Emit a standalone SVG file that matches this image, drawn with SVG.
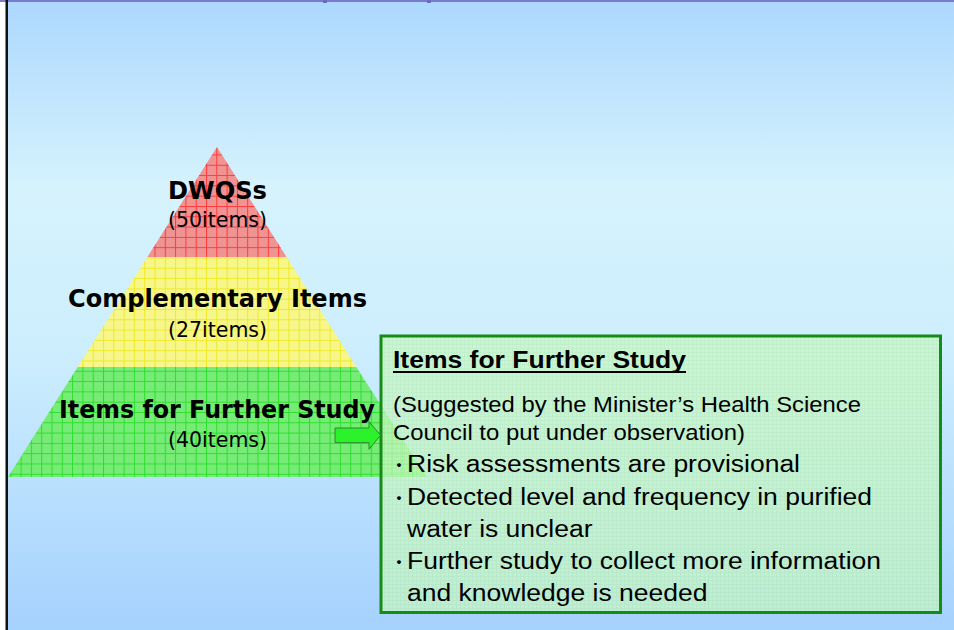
<svg xmlns="http://www.w3.org/2000/svg" width="954" height="630" viewBox="0 0 954 630">
  <defs>
    <linearGradient id="bg" x1="0" y1="0" x2="0" y2="1">
      <stop offset="0" stop-color="#acd7fd"/>
      <stop offset="0.3" stop-color="#d6f3fd"/>
      <stop offset="0.55" stop-color="#cdeefd"/>
      <stop offset="1" stop-color="#a5d1fd"/>
    </linearGradient>
    <pattern id="grid-red" patternUnits="userSpaceOnUse" width="10.3" height="10.3">
      <rect width="10.3" height="10.3" fill="#ef9393"/>
      <path d="M0 0.5H10.3M0.5 0V10.3" stroke="#ff3a3a" stroke-width="1"/>
    </pattern>
    <pattern id="grid-yellow" patternUnits="userSpaceOnUse" width="10.3" height="10.3">
      <rect width="10.3" height="10.3" fill="#f6f68a"/>
      <path d="M0 0.5H10.3M0.5 0V10.3" stroke="#eeea2a" stroke-width="1"/>
    </pattern>
    <pattern id="grid-green" patternUnits="userSpaceOnUse" width="10.3" height="10.3">
      <rect width="10.3" height="10.3" fill="#76ec76"/>
      <path d="M0 0.5H10.3M0.5 0V10.3" stroke="#2ddd2d" stroke-width="1"/>
    </pattern>
    <pattern id="grid-box" patternUnits="userSpaceOnUse" width="4" height="4">
      <rect width="4" height="4" fill="#c9f8c2"/>
      <path d="M0 0.5H4M0.5 0V4" stroke="#bdf0b8" stroke-width="1"/>
    </pattern>
    <style>
      .tier-title { font-family: "DejaVu Sans", "Liberation Sans", sans-serif; font-weight: bold; font-size: 24px; fill: #000; text-anchor: middle; }
      .tier-count { font-family: "DejaVu Sans", "Liberation Sans", sans-serif; font-size: 21px; fill: #000; text-anchor: middle; }
      .box-head { font-family: "Liberation Sans", Arial, sans-serif; font-weight: bold; font-size: 24.5px; fill: #000; }
      .box-note { font-family: "Liberation Sans", Arial, sans-serif; font-size: 22.5px; fill: #000; }
      .box-item { font-family: "Liberation Sans", Arial, sans-serif; font-size: 23.5px; fill: #000; }
      .bullet { font-family: "Noto Sans CJK JP", "Liberation Sans", sans-serif; font-size: 20px; font-weight: bold; fill: #000; text-anchor: middle; }
    </style>
  </defs>

  <!-- slide background -->
  <rect x="0" y="0" width="954" height="630" fill="#ffffff"/>
  <rect x="8" y="0" width="946" height="630" fill="url(#bg)"/>
  <rect x="0" y="0" width="954" height="2" fill="#7b7bc9"/>
  <rect x="323" y="0" width="4" height="3" fill="#6c6cbc"/>
  <rect x="427" y="0" width="4" height="3" fill="#6c6cbc"/>
  <rect x="5.5" y="0" width="2.5" height="630" fill="#111111"/>

  <!-- pyramid tiers -->
  <g id="tier-dwqs">
    <polygon points="217,147 147.4,257 286.6,257" fill="url(#grid-red)"/>
    <text class="tier-title" x="217.5" y="199" textLength="99" lengthAdjust="spacingAndGlyphs">DWQSs</text>
    <text class="tier-count" x="217.5" y="227" textLength="99" lengthAdjust="spacingAndGlyphs">(50items)</text>
  </g>
  <g id="tier-complementary">
    <polygon points="147.4,257 286.6,257 356.3,367 77.7,367" fill="url(#grid-yellow)"/>
    <text class="tier-title" x="217.5" y="307" textLength="299" lengthAdjust="spacingAndGlyphs">Complementary Items</text>
    <text class="tier-count" x="217.5" y="337" textLength="99" lengthAdjust="spacingAndGlyphs">(27items)</text>
  </g>
  <g id="tier-further">
    <polygon points="77.7,367 356.3,367 427,477 8,477" fill="url(#grid-green)"/>
    <text class="tier-title" x="217" y="418" textLength="316" lengthAdjust="spacingAndGlyphs">Items for Further Study</text>
    <text class="tier-count" x="217.5" y="447" textLength="99" lengthAdjust="spacingAndGlyphs">(40items)</text>
  </g>

  <!-- detail box -->
  <g id="further-study-box">
    <rect x="381" y="336" width="559.5" height="276.5" fill="url(#grid-box)" fill-opacity="0.72" stroke="#168c16" stroke-width="3"/>
    <text class="box-head" x="393" y="368" textLength="293" lengthAdjust="spacingAndGlyphs">Items for Further Study</text>
    <rect x="393" y="371" width="293" height="2" fill="#000"/>
    <text class="box-note" x="393" y="412" textLength="468" lengthAdjust="spacingAndGlyphs">(Suggested by the Minister’s Health Science</text>
    <text class="box-note" x="393" y="440" textLength="352" lengthAdjust="spacingAndGlyphs">Council to put under observation)</text>
    <text class="bullet" x="399" y="473">･</text>
    <text class="box-item" x="407" y="472" textLength="393" lengthAdjust="spacingAndGlyphs">Risk assessments are provisional</text>
    <text class="bullet" x="399" y="505.5">･</text>
    <text class="box-item" x="407" y="504.5" textLength="465" lengthAdjust="spacingAndGlyphs">Detected level and frequency in purified</text>
    <text class="box-item" x="407" y="536.5" textLength="185.5" lengthAdjust="spacingAndGlyphs">water is unclear</text>
    <text class="bullet" x="399" y="569.5">･</text>
    <text class="box-item" x="407" y="568.5" textLength="474" lengthAdjust="spacingAndGlyphs">Further study to collect more information</text>
    <text class="box-item" x="407" y="600.5" textLength="300.5" lengthAdjust="spacingAndGlyphs">and knowledge is needed</text>
  </g>

  <!-- connectors -->
  <g id="connectors">
    <polygon points="335,428 369,428 369,421.5 380.5,435.3 369,449.3 369,442.7 335,442.7" fill="#2cf22c" stroke="#2a8a2a" stroke-width="1"/>
  </g>
</svg>
